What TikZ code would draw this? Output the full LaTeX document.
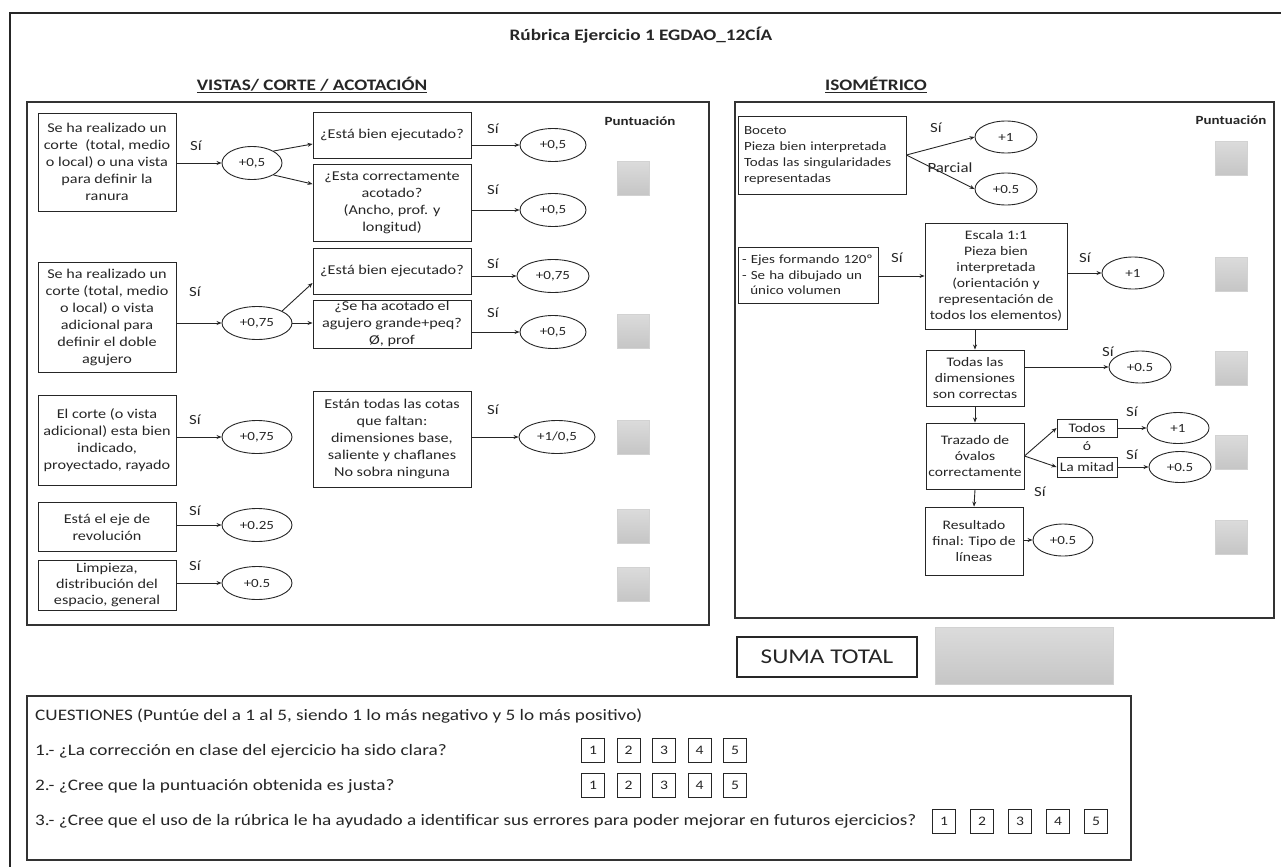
\documentclass[tikz,border=0pt]{standalone}
\usepackage{fontspec}
\setmainfont{Carlito}[FakeStretch=1.2]
\usetikzlibrary{shapes.geometric,arrows.meta,calc}
\begin{document}
\begin{tikzpicture}[x=1pt,y=-1pt,
  every node/.style={font=\fontsize{13.5}{17}\selectfont, inner sep=1pt, text=black!85},
  box/.style={draw=black!85, line width=0.9pt, align=center},
  rbox/.style={draw=black!85, line width=0.9pt, align=center, font=\fontsize{13}{16}\selectfont},
  lbox/.style={draw=black!85, line width=0.9pt, align=left, inner xsep=6pt, inner ysep=3pt},
  oval/.style={draw=black!85, line width=0.9pt, ellipse, inner sep=0pt, minimum height=33, font=\fontsize{12.5}{15}\selectfont},
  arr/.style={-{Stealth[length=5pt,width=4pt]}, line width=0.9pt, draw=black!85},
  si/.style={font=\fontsize{14}{16}\selectfont},
  score/.style={minimum width=32, minimum height=34, shading=axis, top color=gray!28, bottom color=gray!45, draw=gray!35, line width=0.5pt, inner sep=0pt},
  panel/.style={draw=black!80, line width=1.4pt},
  num/.style={draw=black!85, line width=0.9pt, minimum width=23, minimum height=24, inner sep=0pt, font=\fontsize{13}{15}\selectfont},
  qtext/.style={anchor=west, font=\fontsize{16}{18}\selectfont},
  punt/.style={font=\bfseries\fontsize{12.5}{14}\selectfont}
]
\useasboundingbox (0,0) rectangle (1281,867);
% outer frame
\draw[line width=2pt, black!85] (1281,13) -- (10,13) -- (10,867);
\node[font=\bfseries\fontsize{16}{19}\selectfont] (title) at (641,35) {Rúbrica Ejercicio 1 EGDAO\_12CÍA};
\node[font=\bfseries\fontsize{16}{19}\selectfont] (h1) at (312,85) {\underline{VISTAS/ CORTE / ACOTACIÓN}};
\node[font=\bfseries\fontsize{16}{19}\selectfont] (h2) at (876,85) {\underline{ISOMÉTRICO}};

% ===== left panel =====
\draw[panel] (27,102) rectangle (709,625);
\node[punt] (p1) at (640,121) {Puntuación};

\node[box, minimum width=138, minimum height=98] (a1) at (107,162) {Se ha realizado un\\corte \ (total, medio\\o local) o una vista\\para definir la\\ranura};
\node[box, minimum width=138, minimum height=110] (a2) at (107,317) {Se ha realizado un\\corte (total, medio\\o local) o vista\\adicional para\\definir el doble\\agujero};
\node[box, minimum width=138, minimum height=90] (a3) at (107,440) {El corte (o vista\\adicional) esta bien\\indicado,\\proyectado, rayado};
\node[box, minimum width=138, minimum height=49] (a4) at (107,527) {Está el eje de\\revolución};
\node[box, minimum width=138, minimum height=50, font=\fontsize{13.5}{16}\selectfont] (a5) at (107,585) {Limpieza,\\distribución del\\espacio, general};

\node[oval, minimum width=60] (e1) at (252,163) {+0,5};
\node[oval, minimum width=70] (e2) at (257,323) {+0,75};
\node[oval, minimum width=70] (e3) at (257,437) {+0,75};
\node[oval, minimum width=70] (e4) at (257,525) {+0.25};
\node[oval, minimum width=70] (e5) at (257,583) {+0.5};

\node[box, minimum width=158, minimum height=46] (b1) at (392,135) {¿Está bien ejecutado?};
\node[box, minimum width=158, minimum height=77] (b2) at (392,203) {¿Esta correctamente\\acotado?\\(Ancho, prof. y\\longitud)};
\node[box, minimum width=158, minimum height=46] (b3) at (392,271) {¿Está bien ejecutado?};
\node[box, minimum width=158, minimum height=48] (b4) at (392,324) {¿Se ha acotado el\\agujero grande+peq?\\Ø, prof};
\node[box, minimum width=158, minimum height=96] (b5) at (392,439) {Están todas las cotas\\que faltan:\\dimensiones base,\\saliente y chaflanes\\No sobra ninguna};

\node[oval, minimum width=66] (r1) at (553,145) {+0,5};
\node[oval, minimum width=66] (r2) at (553,210) {+0,5};
\node[oval, minimum width=72] (r3) at (553,276) {+0,75};
\node[oval, minimum width=66] (r4) at (553,332) {+0,5};
\node[oval, minimum width=76] (r5) at (557,437) {+1/0,5};

\node[score] (s1) at (633,178) {};
\node[score] (s2) at (633,331) {};
\node[score] (s3) at (633,437) {};
\node[score] (s4) at (633,526) {};
\node[score] (s5) at (633,584) {};

\draw[arr] (a1.east |- e1) -- (e1.west);
\draw[arr] (a2.east |- e2) -- (e2.west);
\draw[arr] (a3.east |- e3) -- (e3.west);
\draw[arr] (a4.east |- e4) -- (e4.west);
\draw[arr] (a5.east |- e5) -- (e5.west);
\node[si] (sa1) at (196,146) {Sí};
\node[si] (sa2) at (195,292) {Sí};
\node[si] (sa3) at (195,420) {Sí};
\node[si] (sa4) at (195,511) {Sí};
\node[si] (sa5) at (195,566) {Sí};

\draw[arr] (e1.north east) -- ($(b1.west)+(0,9)$);
\draw[arr] (e1.south east) -- ($(b2.north west)+(0,20)$);
\draw[arr] (e2.north east) -- ($(b3.west)+(0,12)$);
\draw[arr] (e2.east) -- (b4.west |- e2);

\draw[arr] (b1.east |- r1) -- (r1.west);
\draw[arr] (b2.east |- r2) -- (r2.west);
\draw[arr] (b3.east |- r3) -- (r3.west);
\draw[arr] (b4.east |- r4) -- (r4.west);
\draw[arr] (b5.east |- r5) -- (r5.west);
\node[si] (sb1) at (493,129) {Sí};
\node[si] (sb2) at (493,190) {Sí};
\node[si] (sb3) at (493,264) {Sí};
\node[si] (sb4) at (493,313) {Sí};
\node[si] (sb5) at (493,410) {Sí};

% ===== right panel =====
\draw[panel] (735,102) rectangle (1274,618);
\node[punt] (p2) at (1231,120) {Puntuación};

\node[lbox, text width=156, minimum height=78, font=\fontsize{12.5}{16}\selectfont] (c1) at (822,155) {Boceto\\Pieza bien interpretada\\Todas las singularidades\\representadas};
\node[oval, minimum width=62, minimum height=32] (f1) at (1006,137) {+1};
\node[oval, minimum width=62, minimum height=32] (f2) at (1006,189) {+0.5};
\draw[arr] (c1.east) -- (f1.west);
\draw[arr] (c1.east) -- (f2.west);
\node[si] (sc1) at (936,128) {Sí};
\node[si] (pc1) at (950,168) {Parcial};
\node[score] (t1) at (1231,158) {};

\node[lbox, inner xsep=4pt, text width=132, minimum height=56, font=\fontsize{12.5}{15.5}\selectfont] (c2) at (808,275) {- Ejes formando 120º\\- Se ha dibujado un\\\ \ único volumen};
\node[rbox, minimum width=142, minimum height=106] (c3) at (996,276) {Escala 1:1\\Pieza bien\\interpretada\\(orientación y\\representación de\\todos los elementos)};
\node[oval, minimum width=62, minimum height=32] (f3) at (1133,273) {+1};
\draw[arr] (c2.east |- c3) -- (c3.west);
\draw[arr] (c3.east |- f3) -- (f3.west);
\node[si] (sc2) at (897,258) {Sí};
\node[si] (sc3) at (1085,258) {Sí};
\node[score] (t2) at (1231,274) {};

\node[rbox, minimum width=98, minimum height=56] (c4) at (975,378) {Todas las\\dimensiones\\son correctas};
\node[oval, minimum width=62, minimum height=32] (f4) at (1140,367) {+0.5};
\draw[arr] (c3.south -| c4) -- (c4.north);
\draw[arr] (c4.east |- f4) -- (f4.west);
\node[si] (sc4) at (1108,352) {Sí};
\node[score] (t3) at (1231,368) {};

\node[rbox, minimum width=98, minimum height=66] (c5) at (975,456) {Trazado de\\óvalos\\correctamente};
\node[rbox, minimum width=60, minimum height=18, inner sep=0pt] (todos) at (1087,428) {Todos};
\node[font=\fontsize{13}{15}\selectfont] (o) at (1087,446) {ó};
\node[rbox, minimum width=60, minimum height=20, inner sep=0pt] (mitad) at (1087,467) {La mitad};
\node[oval, minimum width=62, minimum height=31] (f5) at (1178,428) {+1};
\node[oval, minimum width=62, minimum height=31] (f6) at (1180,467) {+0.5};
\draw[arr] (c4.south) -- (c5.north);
\draw[arr] (c5.east) -- (todos.west);
\draw[arr] (c5.east) -- (mitad.west);
\draw[arr] (todos.east |- f5) -- (f5.west);
\draw[arr] (mitad.east |- f6) -- (f6.west);
\node[si] (sc5) at (1132,412) {Sí};
\node[si] (sc6) at (1132,455) {Sí};
\node[si] (sc7) at (1040,492) {Sí};
\node[score] (t4) at (1231,452) {};

\node[rbox, minimum width=98, minimum height=68] (c6) at (974,541) {Resultado\\final: Tipo de\\líneas};
\node[oval, minimum width=60, minimum height=32] (f7) at (1063,540) {+0.5};
\draw[arr] (c5.south) -- (c6.north);
\draw[arr] (c6.east |- f7) -- (f7.west);
\node[score] (t5) at (1231,537) {};

% ===== total =====
\node[draw=black!85, line width=1.2pt, minimum width=180, minimum height=40, font=\fontsize{21}{25}\selectfont] (suma) at (827,657) {SUMA TOTAL};
\node[score, minimum width=178, minimum height=57] (tot) at (1024,656) {};

% ===== questions =====
\draw[panel, line width=1.2pt] (27,696) rectangle (1131,860);
\node[qtext] (q0) at (34,716) {CUESTIONES (Puntúe del a 1 al 5, siendo 1 lo más negativo y 5 lo más positivo)};
\node[qtext] (q1) at (34,751) {1.- ¿La corrección en clase del ejercicio ha sido clara?};
\node[qtext] (q2) at (34,786) {2.- ¿Cree que la puntuación obtenida es justa?};
\node[qtext] (q3) at (34,821) {3.- ¿Cree que el uso de la rúbrica le ha ayudado a identificar sus errores para poder mejorar en futuros ejercicios?};
\foreach \i in {1,...,5} {
  \node[num] (qa\i) at ({593+(\i-1)*35.5},750) {\i};
  \node[num] (qb\i) at ({593+(\i-1)*35.5},785) {\i};
  \node[num] (qc\i) at ({944+(\i-1)*38},821) {\i};
}
\end{tikzpicture}
\end{document}
